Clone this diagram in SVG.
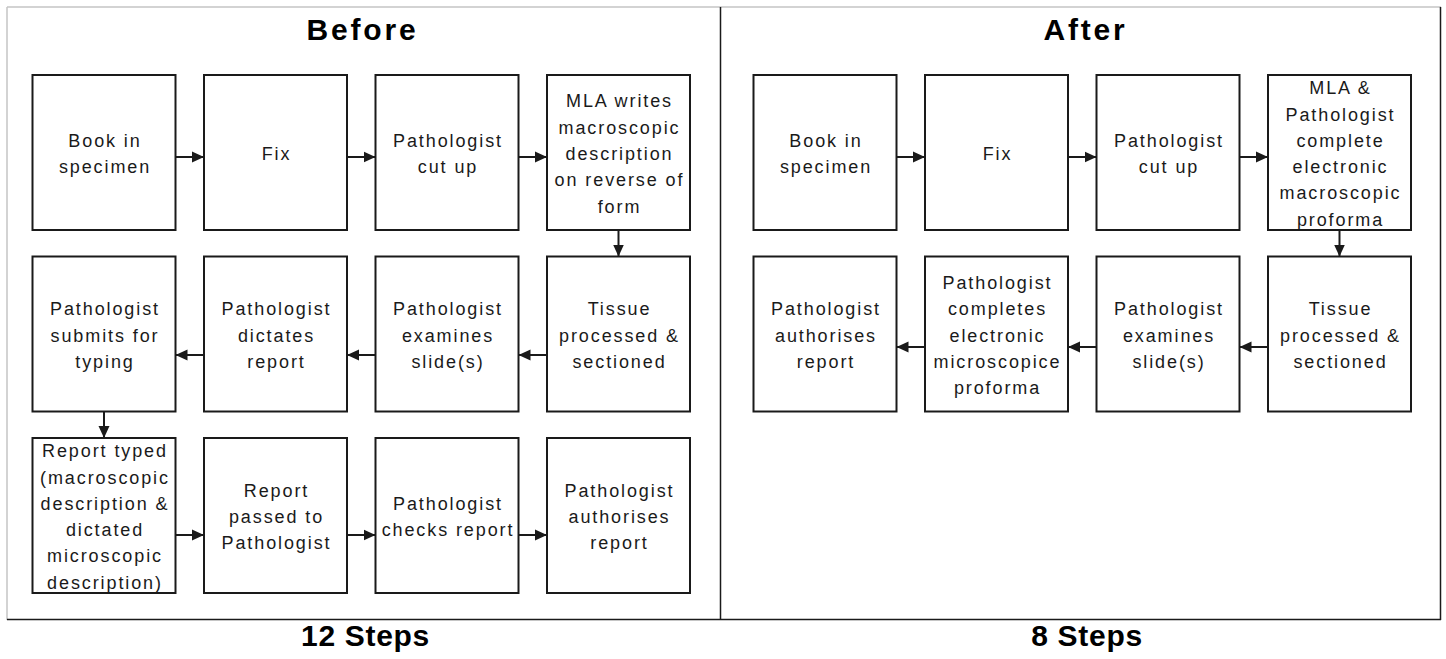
<svg xmlns="http://www.w3.org/2000/svg" width="1446" height="659" viewBox="0 0 1446 659">
<style>
  .box { fill: #ffffff; stroke: #1a1a1a; stroke-width: 2; }
  .lbl { font-family: "Liberation Sans", Arial, sans-serif; font-size: 18px; letter-spacing: 1.9px; fill: #1a1a1a; text-anchor: middle; }
  .title { font-family: "Liberation Sans", Arial, sans-serif; font-size: 30px; font-weight: bold; letter-spacing: 2.8px; fill: #000; text-anchor: middle; }
  .steps { font-family: "Liberation Sans", Arial, sans-serif; font-size: 30px; font-weight: bold; letter-spacing: 0.7px; fill: #000; text-anchor: middle; }
  .conn line { stroke: #1a1a1a; stroke-width: 2; marker-end: url(#ah); }
</style>
<defs>
  <marker id="ah" markerUnits="userSpaceOnUse" markerWidth="13" markerHeight="12" refX="12" refY="6" orient="auto">
    <path d="M0,0.5 L12,6 L0,11.5 Z" fill="#1a1a1a"/>
  </marker>
</defs>
<rect x="0" y="0" width="1446" height="659" fill="#ffffff"/>
<g id="frame">
  <line x1="7" y1="7" x2="1441" y2="7" stroke="#c4c4c4" stroke-width="1.5"/>
  <line x1="7" y1="7" x2="7" y2="620" stroke="#c4c4c4" stroke-width="1.5"/>
  <line x1="7" y1="619.5" x2="1441" y2="619.5" stroke="#1a1a1a" stroke-width="1.5"/>
  <line x1="1440.5" y1="7" x2="1440.5" y2="620" stroke="#1a1a1a" stroke-width="1.5"/>
  <line x1="720.5" y1="7" x2="720.5" y2="619" stroke="#1a1a1a" stroke-width="1.5"/>
</g>
<g id="titles">
  <text class="title" x="362.5" y="40">Before</text>
  <text class="title" x="1085.5" y="40">After</text>
  <text class="steps" x="365.5" y="646">12 Steps</text>
  <text class="steps" x="1087" y="646">8 Steps</text>
</g>

<g id="b1"><rect class="box" x="32.5" y="75" width="143" height="155"/>
  <text class="lbl"><tspan x="105" y="146.8">Book in</tspan><tspan x="105" y="173.2">specimen</tspan></text></g>
<g id="b2"><rect class="box" x="204" y="75" width="143" height="155"/>
  <text class="lbl"><tspan x="276.5" y="160">Fix</tspan></text></g>
<g id="b3"><rect class="box" x="375.5" y="75" width="143" height="155"/>
  <text class="lbl"><tspan x="448" y="146.8">Pathologist</tspan><tspan x="448" y="173.2">cut up</tspan></text></g>
<g id="b4"><rect class="box" x="547" y="75" width="143" height="155"/>
  <text class="lbl"><tspan x="619.5" y="107.4">MLA writes</tspan><tspan x="619.5" y="133.7">macroscopic</tspan><tspan x="619.5" y="160">description</tspan><tspan x="619.5" y="186.3">on reverse of</tspan><tspan x="619.5" y="212.6">form</tspan></text></g>

<g id="b5"><rect class="box" x="547" y="256.5" width="143" height="155"/>
  <text class="lbl"><tspan x="619.5" y="315.2">Tissue</tspan><tspan x="619.5" y="341.5">processed &amp;</tspan><tspan x="619.5" y="367.8">sectioned</tspan></text></g>
<g id="b6"><rect class="box" x="375.5" y="256.5" width="143" height="155"/>
  <text class="lbl"><tspan x="448" y="315.2">Pathologist</tspan><tspan x="448" y="341.5">examines</tspan><tspan x="448" y="367.8">slide(s)</tspan></text></g>
<g id="b7"><rect class="box" x="204" y="256.5" width="143" height="155"/>
  <text class="lbl"><tspan x="276.5" y="315.2">Pathologist</tspan><tspan x="276.5" y="341.5">dictates</tspan><tspan x="276.5" y="367.8">report</tspan></text></g>
<g id="b8"><rect class="box" x="32.5" y="256.5" width="143" height="155"/>
  <text class="lbl"><tspan x="105" y="315.2">Pathologist</tspan><tspan x="105" y="341.5">submits for</tspan><tspan x="105" y="367.8">typing</tspan></text></g>

<g id="b9"><rect class="box" x="32.5" y="438" width="143" height="155"/>
  <text class="lbl"><tspan x="105" y="457.2">Report typed</tspan><tspan x="105" y="483.5">(macroscopic</tspan><tspan x="105" y="509.8">description &amp;</tspan><tspan x="105" y="536.1">dictated</tspan><tspan x="105" y="562.4">microscopic</tspan><tspan x="105" y="588.7">description)</tspan></text></g>
<g id="b10"><rect class="box" x="204" y="438" width="143" height="155"/>
  <text class="lbl"><tspan x="276.5" y="496.7">Report</tspan><tspan x="276.5" y="523">passed to</tspan><tspan x="276.5" y="549.3">Pathologist</tspan></text></g>
<g id="b11"><rect class="box" x="375.5" y="438" width="143" height="155"/>
  <text class="lbl"><tspan x="448" y="509.9">Pathologist</tspan><tspan x="448" y="536.2">checks report</tspan></text></g>
<g id="b12"><rect class="box" x="547" y="438" width="143" height="155"/>
  <text class="lbl"><tspan x="619.5" y="496.7">Pathologist</tspan><tspan x="619.5" y="523">authorises</tspan><tspan x="619.5" y="549.3">report</tspan></text></g>

<g id="a1"><rect class="box" x="753.5" y="75" width="143" height="155"/>
  <text class="lbl"><tspan x="826" y="146.8">Book in</tspan><tspan x="826" y="173.2">specimen</tspan></text></g>
<g id="a2"><rect class="box" x="925" y="75" width="143" height="155"/>
  <text class="lbl"><tspan x="997.5" y="160">Fix</tspan></text></g>
<g id="a3"><rect class="box" x="1096.5" y="75" width="143" height="155"/>
  <text class="lbl"><tspan x="1169" y="146.8">Pathologist</tspan><tspan x="1169" y="173.2">cut up</tspan></text></g>
<g id="a4"><rect class="box" x="1268" y="75" width="143" height="155"/>
  <text class="lbl"><tspan x="1340.5" y="94.2">MLA &amp;</tspan><tspan x="1340.5" y="120.5">Pathologist</tspan><tspan x="1340.5" y="146.8">complete</tspan><tspan x="1340.5" y="173.1">electronic</tspan><tspan x="1340.5" y="199.4">macroscopic</tspan><tspan x="1340.5" y="225.7">proforma</tspan></text></g>

<g id="a5"><rect class="box" x="1268" y="256.5" width="143" height="155"/>
  <text class="lbl"><tspan x="1340.5" y="315.2">Tissue</tspan><tspan x="1340.5" y="341.5">processed &amp;</tspan><tspan x="1340.5" y="367.8">sectioned</tspan></text></g>
<g id="a6"><rect class="box" x="1096.5" y="256.5" width="143" height="155"/>
  <text class="lbl"><tspan x="1169" y="315.2">Pathologist</tspan><tspan x="1169" y="341.5">examines</tspan><tspan x="1169" y="367.8">slide(s)</tspan></text></g>
<g id="a7"><rect class="box" x="925" y="256.5" width="143" height="155"/>
  <text class="lbl"><tspan x="997.5" y="288.9">Pathologist</tspan><tspan x="997.5" y="315.2">completes</tspan><tspan x="997.5" y="341.5">electronic</tspan><tspan x="997.5" y="367.8">microscopice</tspan><tspan x="997.5" y="394.1">proforma</tspan></text></g>
<g id="a8"><rect class="box" x="753.5" y="256.5" width="143" height="155"/>
  <text class="lbl"><tspan x="826" y="315.2">Pathologist</tspan><tspan x="826" y="341.5">authorises</tspan><tspan x="826" y="367.8">report</tspan></text></g>

<g id="connectors" class="conn">
  <line x1="175.5" y1="157" x2="204" y2="157"/>
  <line x1="347" y1="157" x2="375.5" y2="157"/>
  <line x1="518.5" y1="157" x2="547" y2="157"/>
  <line x1="618.5" y1="230" x2="618.5" y2="256.5"/>
  <line x1="547" y1="355" x2="518.5" y2="355"/>
  <line x1="375.5" y1="355" x2="347" y2="355"/>
  <line x1="204" y1="355" x2="175.5" y2="355"/>
  <line x1="104" y1="411.5" x2="104" y2="438"/>
  <line x1="175.5" y1="535" x2="204" y2="535"/>
  <line x1="347" y1="535" x2="375.5" y2="535"/>
  <line x1="518.5" y1="535" x2="547" y2="535"/>
  <line x1="896.5" y1="157" x2="925" y2="157"/>
  <line x1="1068" y1="157" x2="1096.5" y2="157"/>
  <line x1="1239.5" y1="157" x2="1268" y2="157"/>
  <line x1="1339.5" y1="230" x2="1339.5" y2="256.5"/>
  <line x1="1268" y1="347" x2="1239.5" y2="347"/>
  <line x1="1096.5" y1="347" x2="1068" y2="347"/>
  <line x1="925" y1="347" x2="896.5" y2="347"/>
</g>
</svg>
